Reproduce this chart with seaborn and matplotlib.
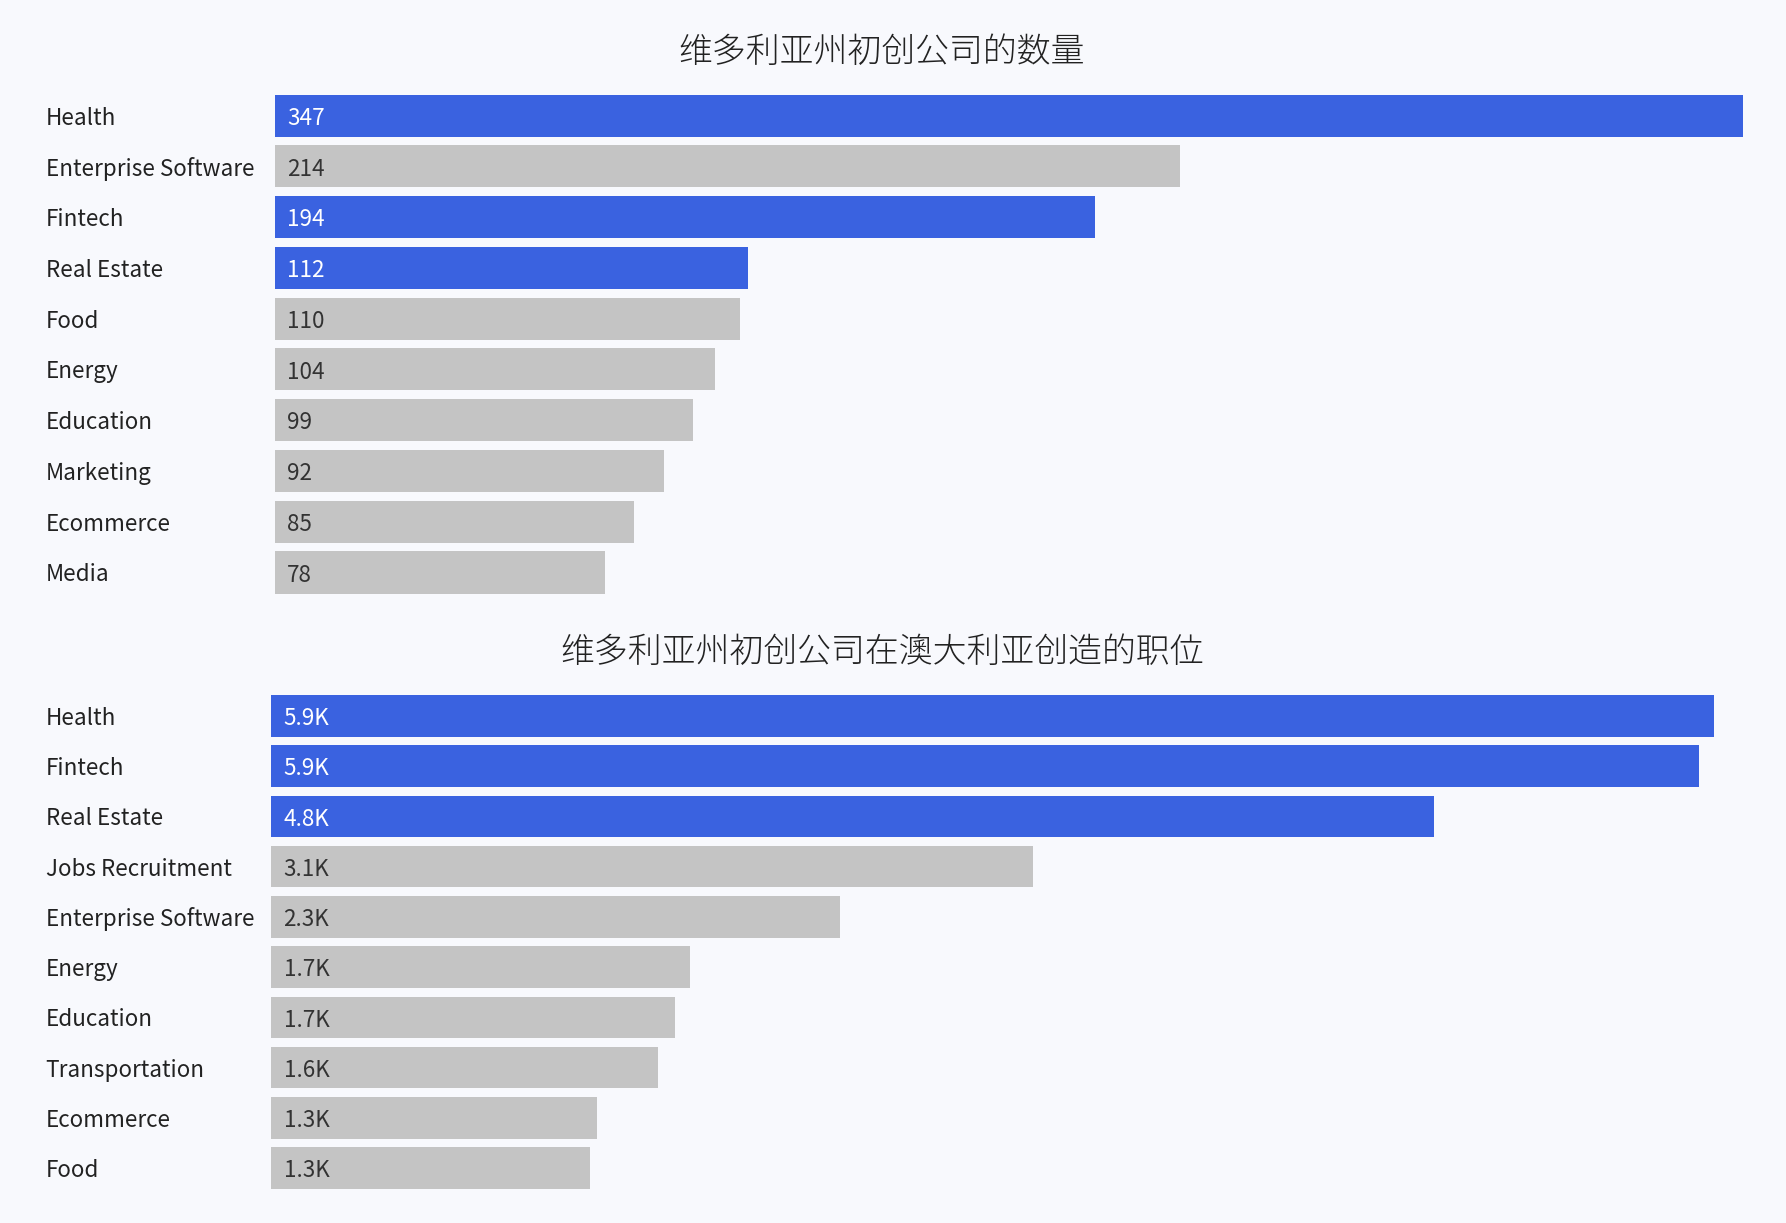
import matplotlib
matplotlib.use("Agg")
import matplotlib.pyplot as plt
import seaborn as sns
import pandas as pd
from matplotlib import font_manager

# ---- data ----
title_top = "维多利亚州初创公司的数量"
cats_top = ["Health", "Enterprise Software", "Fintech", "Real Estate", "Food",
            "Energy", "Education", "Marketing", "Ecommerce", "Media"]
vals_top = [347, 214, 194, 112, 110, 104, 99, 92, 85, 78]

title_bot = "维多利亚州初创公司在澳大利亚创造的职位"
cats_bot = ["Health", "Fintech", "Real Estate", "Jobs Recruitment", "Enterprise Software",
            "Energy", "Education", "Transportation", "Ecommerce", "Food"]
vals_bot = [5930, 5870, 4780, 3130, 2340, 1720, 1660, 1590, 1340, 1310]

highlight = ["Health", "Fintech", "Real Estate"]

BLUE = "#3A62E0"
GRAY = "#C4C4C4"
BG = "#F8F9FD"

sns.set_theme(style="white")
plt.rcParams["font.family"] = ["Noto Sans CJK SC", "DejaVu Sans"]

# look for a light CJK face for the titles
light_path = None
for f in font_manager.fontManager.ttflist:
    if "CJK" in f.name:
        w = f.weight if isinstance(f.weight, int) else 400
        if isinstance(f.weight, str) and f.weight.lower() in ("light", "extralight", "ultralight"):
            w = 300
        if w <= 300:
            light_path = f.fname
            break

W, H = 1786, 1223
fig = plt.figure(figsize=(W / 100, H / 100), dpi=100)
fig.patch.set_facecolor(BG)


def fmt_k(v):
    return f"{v/1000:.1f}K"


def panel(rect_px, cats, vals, title, title_y, labfmt):
    x0, y0, x1, y1 = rect_px  # pixel coords from top-left
    ax = fig.add_axes([x0 / W, 1 - y1 / H, (x1 - x0) / W, (y1 - y0) / H])
    ax.set_facecolor(BG)
    df = pd.DataFrame({"cat": cats, "val": vals})
    pal = {c: (BLUE if c in highlight else GRAY) for c in cats}
    sns.barplot(data=df, y="cat", x="val", hue="cat", palette=pal, legend=False,
                width=0.83, linewidth=0, saturation=1, ax=ax, orient="h")
    ax.set_xlim(0, max(vals))
    n = len(cats)
    ax.set_ylim(n - 1 + 0.415, -0.415)
    for s in ax.spines.values():
        s.set_visible(False)
    ax.set_xticks([])
    ax.set_xlabel("")
    ax.set_ylabel("")
    pad_px = x0 - 45.5
    ax.tick_params(axis="y", length=0, pad=pad_px * 0.72, labelsize=16.2, labelcolor="#222222")
    for lab in ax.get_yticklabels():
        lab.set_horizontalalignment("left")
    for i, (c, v) in enumerate(zip(cats, vals)):
        col = "white" if c in highlight else "#333333"
        ax.annotate(labfmt(v), xy=(0, i), xytext=(12.5 * 0.72, -2.0), textcoords="offset points",
                    ha="left", va="center", fontsize=16.2, color=col)
    kw = dict(ha="center", va="center", fontsize=24.4, color="#222222")
    if light_path:
        kw["fontproperties"] = font_manager.FontProperties(fname=light_path, size=24.4)
        kw.pop("fontsize")
    else:
        kw["fontweight"] = "light"
    fig.text(882 / W, 1 - title_y / H, title, **kw)
    return ax


panel((274.5, 94.5, 1742.7, 593.5), cats_top, vals_top, title_top, 51.5, lambda v: f"{v}")
panel((271, 695, 1714, 1189), cats_bot, vals_bot, title_bot, 651.5, fmt_k)

fig.savefig("out.png", dpi=100, facecolor=BG)
